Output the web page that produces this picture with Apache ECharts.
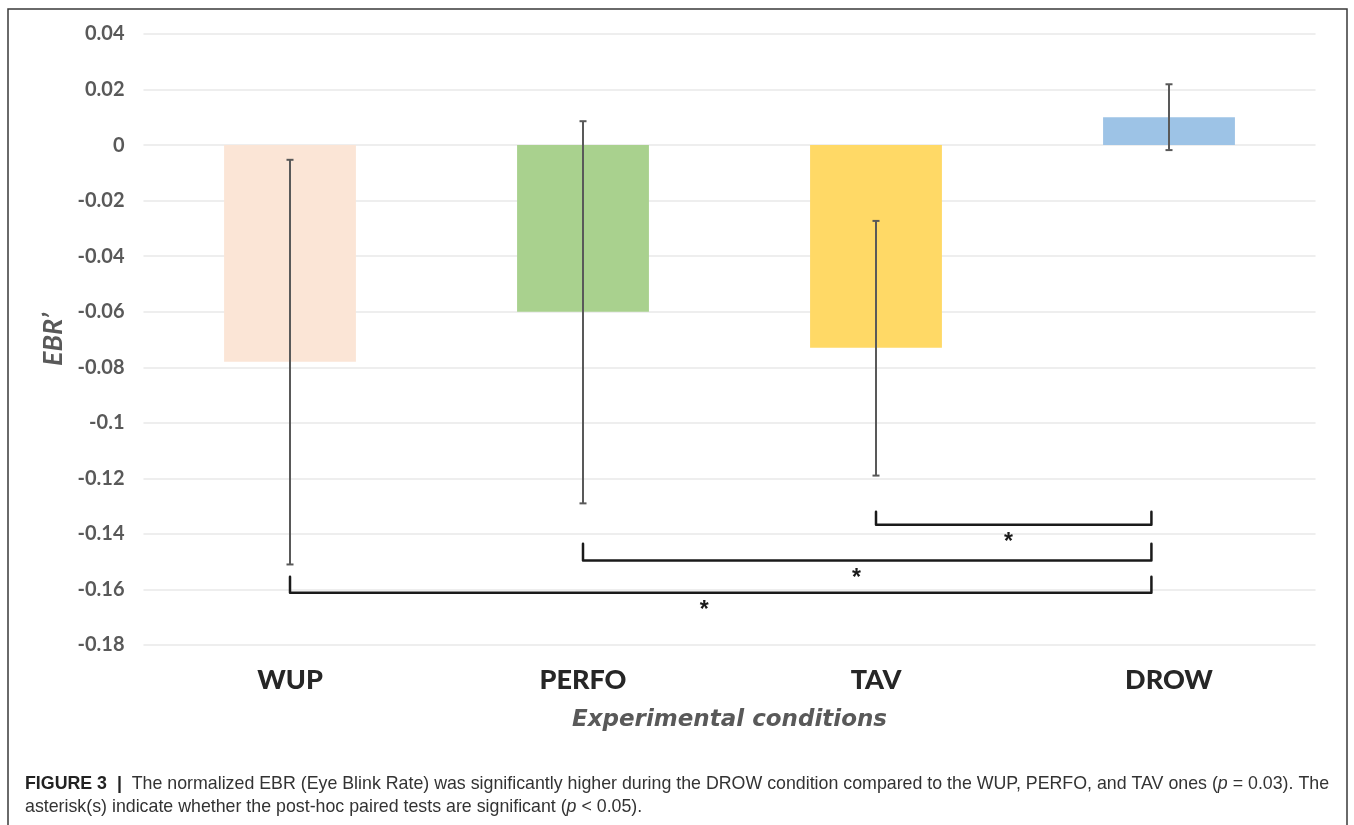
<!DOCTYPE html>
<html>
<head>
<meta charset="utf-8">
<script src="https://cdn.jsdelivr.net/npm/echarts@6/dist/echarts.min.js"></script>
<style>
  html, body { margin: 0; padding: 0; background: #fff; }
  #chart { width: 1354px; height: 825px; }
</style>
</head>
<body>
<div id="chart"></div>
<script>
// ---- data ----
const categories = ['WUP', 'PERFO', 'TAV', 'DROW'];
const meanValues = [-0.078, -0.060, -0.073, 0.010];
const errorLow = [-0.151, -0.129, -0.119, -0.0018];
const errorHigh = [-0.0053, 0.0086, -0.0273, 0.0219];
const barColors = ['#FBE5D6', '#A9D18E', '#FFD966', '#9DC3E6'];
const yTickLabels = ['-0.18', '-0.16', '-0.14', '-0.12', '-0.1', '-0.08', '-0.06', '-0.04', '-0.02', '0', '0.02', '0.04'];
const bracketFrom = [2, 1, 0];
const bracketTo = [3, 3, 3];
const bracketTop = [-0.132, -0.1435, -0.1554];
const bracketLine = [-0.1367, -0.1496, -0.1612];
const bracketMarks = ['*', '*', '*'];

const yMin = -0.18, yMax = 0.04, yInterval = 0.02;

const chart = echarts.init(document.getElementById('chart'), null, { renderer: 'canvas' });

function renderError(params, api) {
  const x = api.value(0);
  const pLo = api.coord([x, api.value(1)]);
  const pHi = api.coord([x, api.value(2)]);
  const cap = 3.5;
  const st = { stroke: '#595959', lineWidth: 2 };
  return {
    type: 'group',
    children: [
      { type: 'line', shape: { x1: pLo[0], y1: pLo[1], x2: pHi[0], y2: pHi[1] }, style: st },
      { type: 'line', shape: { x1: pLo[0] - cap, y1: pLo[1], x2: pLo[0] + cap, y2: pLo[1] }, style: st },
      { type: 'line', shape: { x1: pHi[0] - cap, y1: pHi[1], x2: pHi[0] + cap, y2: pHi[1] }, style: st }
    ]
  };
}

function renderBracket(params, api) {
  const from = api.value(0), to = api.value(1);
  const topV = api.value(2), lineV = api.value(3);
  const band = api.size([1, 0])[0];
  const pA = api.coord([from, lineV]);
  const pB = api.coord([to, lineV]);
  const yTop = api.coord([from, topV])[1];
  const xL = pA[0];
  const xR = pB[0] - band * 0.06;
  const yL = pA[1];
  return {
    type: 'group',
    children: [
      {
        type: 'polyline',
        shape: { points: [[xL, yTop], [xL, yL], [xR, yL], [xR, yTop]] },
        style: { stroke: '#1a1a1a', lineWidth: 2.5, fill: null, lineJoin: 'round', lineCap: 'round' }
      },
      {
        type: 'text',
        style: {
          text: bracketMarks[params.dataIndex],
          x: (xL + xR) / 2 - 0.019 * (xR - xL),
          y: yL + 18,
          align: 'center', verticalAlign: 'middle',
          font: 'bold 23px "Liberation Sans", Arial, sans-serif',
          fill: '#1a1a1a'
        }
      }
    ]
  };
}

const option = {
  animation: false,
  backgroundColor: '#fff',
  grid: { left: 143.5, right: 38.5, top: 34, bottom: 180, containLabel: false },
  xAxis: {
    type: 'category',
    data: categories,
    name: 'Experimental conditions',
    nameLocation: 'middle',
    nameGap: 64,
    nameTextStyle: {
      fontFamily: 'DejaVu Sans', fontWeight: 'bold', fontStyle: 'italic',
      fontSize: 23, color: '#595959'
    },
    axisLine: { show: false, onZero: false },
    axisTick: { show: false },
    axisLabel: {
      margin: 22,
      fontFamily: 'Lato', fontWeight: 900, fontSize: 27, color: '#262626'
    },
    splitLine: { show: false }
  },
  yAxis: {
    type: 'value',
    min: yMin, max: yMax, interval: yInterval,
    name: 'EBR\u2019',
    nameLocation: 'middle',
    nameGap: 76,
    nameTextStyle: {
      fontFamily: 'Lato', fontWeight: 'bold', fontStyle: 'italic',
      fontSize: 27, color: '#595959'
    },
    axisLine: { show: false },
    axisTick: { show: false },
    axisLabel: {
      margin: 19,
      fontFamily: 'Lato', fontWeight: 'bold', fontSize: 20, color: '#595959',
      formatter: function (v) {
        const idx = Math.round((v - yMin) / yInterval);
        return yTickLabels[idx];
      }
    },
    splitLine: { lineStyle: { color: '#e8e8e8', width: 1.5 } }
  },
  series: [
    {
      type: 'bar',
      barWidth: '45%',
      data: meanValues.map((v, i) => ({ value: v, itemStyle: { color: barColors[i] } })),
      z: 2
    },
    {
      type: 'custom',
      renderItem: renderError,
      data: categories.map((c, i) => [i, errorLow[i], errorHigh[i]]),
      encode: { x: 0, y: [1, 2] },
      z: 3,
      clip: false
    },
    {
      type: 'custom',
      renderItem: renderBracket,
      data: bracketFrom.map((f, i) => [f, bracketTo[i], bracketTop[i], bracketLine[i]]),
      encode: { x: [0, 1], y: [2, 3] },
      z: 4,
      clip: false
    }
  ],
  graphic: [
    {
      type: 'rect',
      shape: { x: 8, y: 9, width: 1339, height: 900 },
      style: { fill: null, stroke: '#3a3a3a', lineWidth: 1.5 },
      silent: true
    },
    {
      type: 'text',
      style: {
        x: 25, y: 784,
        verticalAlign: 'middle',
        text: '{b|FIGURE 3}  {b|| } The normalized EBR (Eye Blink Rate) was significantly higher during the DROW condition compared to the WUP, PERFO, and TAV ones ({i|p} = 0.03). The',
        font: '17.8px "Liberation Sans", Arial, sans-serif',
        fill: '#333',
        rich: {
          b: { fontFamily: 'Liberation Sans', fontWeight: 'bold', fontSize: 17.8, fill: '#222' },
          i: { fontFamily: 'Liberation Sans', fontStyle: 'italic', fontSize: 17.8, fill: '#333' }
        }
      }
    },
    {
      type: 'text',
      style: {
        x: 25, y: 807,
        verticalAlign: 'middle',
        text: 'asterisk(s) indicate whether the post-hoc paired tests are significant ({i|p} < 0.05).',
        font: '17.8px "Liberation Sans", Arial, sans-serif',
        fill: '#333',
        rich: {
          i: { fontFamily: 'Liberation Sans', fontStyle: 'italic', fontSize: 17.8, fill: '#333' }
        }
      }
    }
  ]
};

chart.setOption(option);
</script>
</body>
</html>
